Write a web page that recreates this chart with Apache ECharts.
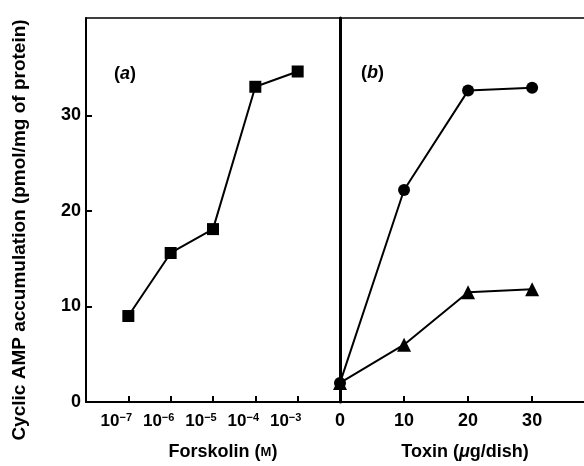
<!DOCTYPE html>
<html>
<head>
<meta charset="utf-8">
<style>html,body{margin:0;padding:0;background:#fff;}#c{width:584px;height:466px;}</style>
<script src="https://cdn.jsdelivr.net/npm/echarts@6/dist/echarts.min.js"></script>
</head>
<body>
<div id="c"></div>
<script>
// Panel (a): forskolin concentration (log10 M) vs cAMP
const forskolinLog = [-7, -6, -5, -4, -3];
const forskolinCAMP = [9.0, 15.6, 18.1, 33.0, 34.6];
// Panel (b): toxin dose vs cAMP
const toxinDose = [0, 10, 20, 30];
const toxinCircles = [2.0, 22.2, 32.6, 32.9];
const toxinTriangles = [2.0, 6.0, 11.5, 11.8];
const yTicks = [0, 10, 20, 30];
const toxinTicks = [0, 10, 20, 30];

const FONT = 'Liberation Sans';
const black = '#000';
const chart = echarts.init(document.getElementById('c'), null, {renderer: 'canvas'});

const zipPairs = (xs, ys) => xs.map((x, i) => [x, ys[i]]);

const lbl = {fontFamily: FONT, fontWeight: 'bold', fontSize: 18, color: black};

chart.setOption({
  animation: false,
  backgroundColor: '#fff',
  grid: [
    {left: 86, top: 18, width: 254, height: 387},
    {left: 340, top: 18, width: 244, height: 387}
  ],
  xAxis: [
    {
      type: 'value', gridIndex: 0, min: -8, max: -2,
      axisLine: {show: true, lineStyle: {color: black, width: 2}},
      axisTick: {show: true, inside: true, length: 6, lineStyle: {color: black, width: 2}, customValues: forskolinLog},
      axisLabel: {
        customValues: forskolinLog, margin: 10, padding: [0, 24, 0, 0],
        formatter: v => '{b|10}{s|−' + Math.abs(v) + '}',
        rich: {
          b: {fontFamily: FONT, fontWeight: 'bold', fontSize: 17, color: black, lineHeight: 19},
          s: {fontFamily: FONT, fontWeight: 'bold', fontSize: 11, color: black, lineHeight: 10, verticalAlign: 'top'}
        }
      },
      splitLine: {show: false},
      name: 'Forskolin ({sc|M})', nameLocation: 'middle', nameGap: 41,
      nameTextStyle: {
        fontFamily: FONT, fontWeight: 'bold', fontSize: 18, color: black, padding: [0, 0, 0, 20],
        rich: {sc: {fontFamily: FONT, fontWeight: 'bold', fontSize: 13, color: black}}
      }
    },
    {
      type: 'value', gridIndex: 1, min: 0, max: 38.1,
      axisLine: {show: true, lineStyle: {color: black, width: 2}},
      axisTick: {show: true, inside: true, length: 6, lineStyle: {color: black, width: 2}, customValues: toxinTicks},
      axisLabel: Object.assign({customValues: toxinTicks, margin: 10}, lbl),
      splitLine: {show: false},
      name: 'Toxin ({i|μ}g/dish)', nameLocation: 'middle', nameGap: 41,
      nameTextStyle: {
        fontFamily: FONT, fontWeight: 'bold', fontSize: 18, color: black, padding: [0, 0, 0, 6],
        rich: {i: {fontFamily: FONT, fontWeight: 'bold', fontStyle: 'italic', fontSize: 18, color: black}}
      }
    },
    {
      type: 'value', gridIndex: 0, min: -8, max: -2, position: 'top',
      axisLine: {show: true, lineStyle: {color: black, width: 1.5}},
      axisTick: {show: false}, axisLabel: {show: false}, splitLine: {show: false}
    },
    {
      type: 'value', gridIndex: 1, min: 0, max: 38.1, position: 'top',
      axisLine: {show: true, lineStyle: {color: black, width: 1.5}},
      axisTick: {show: false}, axisLabel: {show: false}, splitLine: {show: false}
    }
  ],
  yAxis: [
    {
      type: 'value', gridIndex: 0, min: 0, max: 40.2,
      axisLine: {show: true, lineStyle: {color: black, width: 2}},
      axisTick: {show: true, inside: true, length: 6, lineStyle: {color: black, width: 2}, customValues: yTicks},
      axisLabel: Object.assign({customValues: yTicks, margin: 5}, lbl),
      splitLine: {show: false},
      name: 'Cyclic AMP accumulation (pmol/mg of protein)',
      nameLocation: 'middle', nameGap: 57, nameRotate: 90,
      nameTextStyle: {fontFamily: FONT, fontWeight: 'bold', fontSize: 19, color: black, padding: [0, 40, 0, 0]}
    },
    {
      type: 'value', gridIndex: 1, min: 0, max: 40.2,
      axisLine: {show: true, lineStyle: {color: black, width: 3}},
      axisTick: {show: false}, axisLabel: {show: false}, splitLine: {show: false}
    }
  ],
  series: [
    {
      type: 'line', xAxisIndex: 0, yAxisIndex: 0,
      data: zipPairs(forskolinLog, forskolinCAMP),
      symbol: 'rect', symbolSize: 12,
      lineStyle: {color: black, width: 2}, itemStyle: {color: black},
      clip: false
    },
    {
      type: 'line', xAxisIndex: 1, yAxisIndex: 1,
      data: zipPairs(toxinDose, toxinCircles),
      symbol: 'circle', symbolSize: 12,
      lineStyle: {color: black, width: 2}, itemStyle: {color: black},
      clip: false
    },
    {
      type: 'line', xAxisIndex: 1, yAxisIndex: 1,
      data: zipPairs(toxinDose, toxinTriangles),
      symbol: 'triangle', symbolSize: 14,
      lineStyle: {color: black, width: 2}, itemStyle: {color: black},
      clip: false
    }
  ],
  graphic: [
    {
      type: 'text', left: 114, top: 65,
      style: {
        text: '({i|a})', fontFamily: FONT, fontWeight: 'bold', fontSize: 18, fill: black,
        rich: {i: {fontFamily: FONT, fontWeight: 'bold', fontStyle: 'italic', fontSize: 18, fill: black}}
      }
    },
    {
      type: 'text', left: 361, top: 64,
      style: {
        text: '({i|b})', fontFamily: FONT, fontWeight: 'bold', fontSize: 18, fill: black,
        rich: {i: {fontFamily: FONT, fontWeight: 'bold', fontStyle: 'italic', fontSize: 18, fill: black}}
      }
    }
  ]
});
</script>
</body>
</html>
